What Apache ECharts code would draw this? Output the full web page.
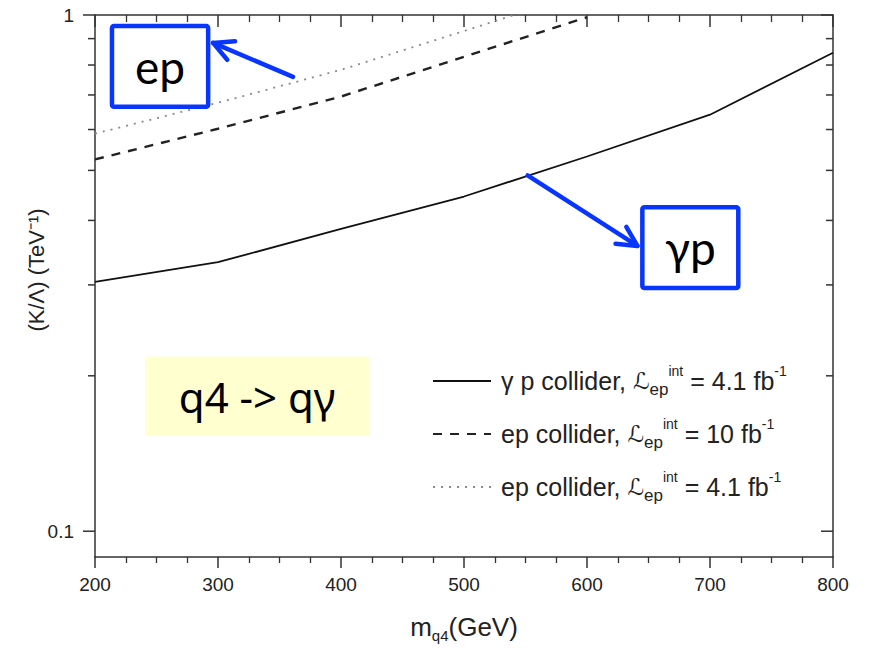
<!DOCTYPE html>
<html>
<head>
<meta charset="utf-8">
<script src="https://cdn.jsdelivr.net/npm/echarts@6/dist/echarts.min.js"></script>
<style>
  html, body { margin: 0; padding: 0; background: #ffffff; }
  #chart { width: 872px; height: 648px; }
</style>
</head>
<body>
<div id="chart"></div>
<script>
// Excited quark q4 -> q gamma: reach on the coupling K/Lambda versus mass
const massGeV = [200, 300, 400, 500, 600, 700, 800];
const gammaP41 = [0.304, 0.332, 0.385, 0.445, 0.532, 0.641, 0.845];   // gamma p collider, 4.1 fb^-1
const epMass = [200, 300, 400, 500, 600];
const ep10 = [0.525, 0.602, 0.695, 0.830, 0.99];                      // ep collider, 10 fb^-1
const ep41 = [0.589, 0.676, 0.783, 0.931, 1.11];                      // ep collider, 4.1 fb^-1

// log axis ticks (decades labelled, 2..9 unlabelled)
const yTickValues = [0.1, 0.2, 0.3, 0.4, 0.5, 0.6, 0.7, 0.8, 0.9, 1];
const yTickLabels = ['0.1', '', '', '', '', '', '', '', '', '1'];

const seriesNames = ['gp41', 'ep10', 'ep41'];
const legendTexts = {
  gp41: '{first|γ p collider, }{L|ℒ}{sub|ep}{sup|int}{t| = 4.1 fb}{sup|-1}',
  ep10: '{first|ep collider, }{L|ℒ}{sub|ep}{sup|int}{t| = 10 fb}{sup|-1}',
  ep41: '{first|ep collider, }{L|ℒ}{sub|ep}{sup|int}{t| = 4.1 fb}{sup|-1}'
};

const FONT = '"Liberation Sans", Arial, Helvetica, sans-serif';
const AXIS_COLOR = '#333';
const TEXT_COLOR = '#222';
const Y_MIN = 0.08913;

const pairs = (xs, ys) => xs.map((x, i) => [x, ys[i]]);

const chart = echarts.init(document.getElementById('chart'), null, { renderer: 'svg' });

const xAxisCommon = {
  type: 'value', min: 200, max: 800, interval: 100,
  axisLine: { show: true, onZero: false, lineStyle: { color: AXIS_COLOR, width: 1.5 } },
  splitLine: { show: false }
};
const yAxisCommon = {
  type: 'log', logBase: 10, min: Y_MIN, max: 1,
  axisLine: { show: true, onZero: false, lineStyle: { color: AXIS_COLOR, width: 1.5 } },
  axisTick: { show: false }, axisLabel: { show: false },
  splitLine: { show: false }, minorTick: { show: false }
};

const legendRich = {
  first: { fontFamily: FONT, fontSize: 25, color: TEXT_COLOR, lineHeight: 34, padding: [0, 0, 0, 5] },
  t: { fontFamily: FONT, fontSize: 25, color: TEXT_COLOR, lineHeight: 34 },
  L: { fontFamily: '"DejaVu Sans", sans-serif', fontStyle: 'italic', fontSize: 23, color: TEXT_COLOR, lineHeight: 34 },
  sub: { fontFamily: FONT, fontSize: 17, color: TEXT_COLOR, lineHeight: 14, verticalAlign: 'bottom' },
  sup: { fontFamily: FONT, fontSize: 14, color: TEXT_COLOR, lineHeight: 13, verticalAlign: 'top' }
};

const option = {
  animation: false,
  backgroundColor: '#ffffff',
  grid: { left: 95, right: 39, top: 15, bottom: 89, containLabel: false },
  xAxis: [
    Object.assign({}, xAxisCommon, {
      position: 'bottom',
      axisTick: { show: true, inside: false, length: 11, lineStyle: { color: AXIS_COLOR, width: 1.5 } },
      minorTick: { show: true, splitNumber: 4, length: 6, lineStyle: { color: AXIS_COLOR, width: 1.3 } },
      axisLabel: { fontFamily: FONT, fontSize: 19, color: TEXT_COLOR, margin: 18 },
      name: '{m|m}{s|q4}{m|(GeV)}',
      nameLocation: 'middle', nameGap: 54,
      nameTextStyle: {
        fontFamily: FONT, color: TEXT_COLOR,
        rich: {
          m: { fontFamily: FONT, fontSize: 26, color: TEXT_COLOR, lineHeight: 32 },
          s: { fontFamily: FONT, fontSize: 15, color: TEXT_COLOR, lineHeight: 14, verticalAlign: 'bottom' }
        }
      }
    }),
    Object.assign({}, xAxisCommon, {
      position: 'top',
      axisTick: { show: true, inside: true, length: 12, lineStyle: { color: AXIS_COLOR, width: 1.5 } },
      minorTick: { show: true, splitNumber: 4, length: 7, lineStyle: { color: AXIS_COLOR, width: 1.3 } },
      axisLabel: { show: false }
    })
  ],
  yAxis: [
    Object.assign({}, yAxisCommon, { position: 'left' }),
    Object.assign({}, yAxisCommon, { position: 'right' })
  ],
  legend: {
    data: seriesNames,
    orient: 'vertical',
    left: 432, top: 364, padding: 0,
    itemWidth: 58, itemHeight: 14, itemGap: 19,
    selectedMode: false,
    itemStyle: { opacity: 0 },
    formatter: name => legendTexts[name],
    textStyle: { fontFamily: FONT, fontSize: 25, color: TEXT_COLOR, rich: legendRich }
  },
  series: [
    {
      name: 'gp41', type: 'line', data: pairs(massGeV, gammaP41),
      symbol: 'none', clip: true,
      itemStyle: { color: '#111' },
      lineStyle: { color: '#111', width: 1.8, type: 'solid' }
    },
    {
      name: 'ep10', type: 'line', data: pairs(epMass, ep10),
      symbol: 'none', clip: true,
      itemStyle: { color: '#222' },
      lineStyle: { color: '#222', width: 2.4, type: [9, 8] }
    },
    {
      name: 'ep41', type: 'line', data: pairs(epMass, ep41),
      symbol: 'none', clip: true,
      itemStyle: { color: '#8a8a8a' },
      lineStyle: { color: '#8a8a8a', width: 1.8, type: [2, 6] }
    },
    {
      // tick marks and labels of the logarithmic value axis, both sides of the frame
      type: 'custom', coordinateSystem: 'cartesian2d',
      data: yTickValues.map((v, i) => [200, v, i]),
      clip: false, silent: true,
      renderItem: function (params, api) {
        const cs = params.coordSys;
        const v = api.value(1);
        const idx = api.value(2);
        const py = api.coord([200, v])[1];
        const label = yTickLabels[idx];
        const major = label !== '';
        const len = major ? 12 : 7;
        const ls = { stroke: AXIS_COLOR, lineWidth: 1.5 };
        const children = [
          { type: 'line', shape: { x1: cs.x - len, y1: py, x2: cs.x, y2: py }, style: ls },
          { type: 'line', shape: { x1: cs.x + cs.width - len, y1: py, x2: cs.x + cs.width, y2: py }, style: ls }
        ];
        if (major) {
          children.push({
            type: 'text',
            style: {
              text: label, x: cs.x - 21, y: py,
              align: 'right', verticalAlign: 'middle',
              fontFamily: FONT, fontSize: 19, fill: TEXT_COLOR
            }
          });
        }
        return { type: 'group', children: children };
      }
    }
  ]
};

chart.setOption(option);

// ---- annotations, anchored in data coordinates ----
const BLUE = '#0836ff';
const toPx = (x, y) => chart.convertToPixel({ xAxisIndex: 0, yAxisIndex: 0 }, [x, y]);

function boxFromData(p0, p1) {
  const a = toPx(p0[0], p0[1]);
  const b = toPx(p1[0], p1[1]);
  return { x: Math.min(a[0], b[0]), y: Math.min(a[1], b[1]), w: Math.abs(b[0] - a[0]), h: Math.abs(b[1] - a[1]) };
}

function arrow(tailData, headData) {
  const t = toPx(tailData[0], tailData[1]);
  const h = toPx(headData[0], headData[1]);
  const dx = t[0] - h[0], dy = t[1] - h[1];
  const d = Math.sqrt(dx * dx + dy * dy);
  const ux = dx / d, uy = dy / d;
  const ang = 27 * Math.PI / 180, L = 22;
  const rot = (s) => [h[0] + L * (ux * Math.cos(s * ang) - uy * Math.sin(s * ang)),
                      h[1] + L * (ux * Math.sin(s * ang) + uy * Math.cos(s * ang))];
  const b1 = rot(1), b2 = rot(-1);
  const style = { stroke: BLUE, lineWidth: 4.5, lineCap: 'round', lineJoin: 'round', fill: null };
  return [
    { type: 'line', shape: { x1: t[0], y1: t[1], x2: h[0], y2: h[1] }, style: style, z: 50 },
    { type: 'polyline', shape: { points: [b1, h, b2] }, style: style, z: 50 }
  ];
}

function labelBox(box, text, font, fill, stroke) {
  return [{
    type: 'rect',
    shape: { x: box.x, y: box.y, width: box.w, height: box.h, r: 2 },
    style: { fill: fill, stroke: stroke, lineWidth: stroke ? 4.5 : 0 },
    z: 40
  }, {
    type: 'text',
    style: {
      text: text, x: box.x + box.w / 2, y: box.y + box.h / 2,
      align: 'center', verticalAlign: 'middle',
      font: font, fill: '#000'
    },
    z: 41
  }];
}

const epBox = boxFromData([213.8, 0.952], [292, 0.664]);
const gpBox = boxFromData([645, 0.424], [723, 0.296]);
const procBox = boxFromData([240.7, 0.218], [423, 0.153]);

const elements = []
  .concat(labelBox(procBox, 'q4 -> qγ', '42px "Noto Sans", "Open Sans", sans-serif', '#ffffcf', null))
  .concat(labelBox(epBox, 'ep', '46px Lato, "Open Sans", sans-serif', '#ffffff', BLUE))
  .concat(labelBox(gpBox, 'γp', '46px Lato, "Open Sans", sans-serif', '#ffffff', BLUE))
  .concat(arrow([361, 0.759], [296, 0.883]))
  .concat(arrow([551.7, 0.489], [641, 0.357]));

// rotated value-axis title
elements.push({
  type: 'text',
  x: 36, y: 270, rotation: Math.PI / 2,
  style: {
    text: '(K/Λ) (TeV⁻¹)',
    align: 'center', verticalAlign: 'middle',
    fontFamily: FONT, fontSize: 22, fill: TEXT_COLOR
  },
  z: 30
});

chart.setOption({ graphic: { elements: elements } });
</script>
</body>
</html>
